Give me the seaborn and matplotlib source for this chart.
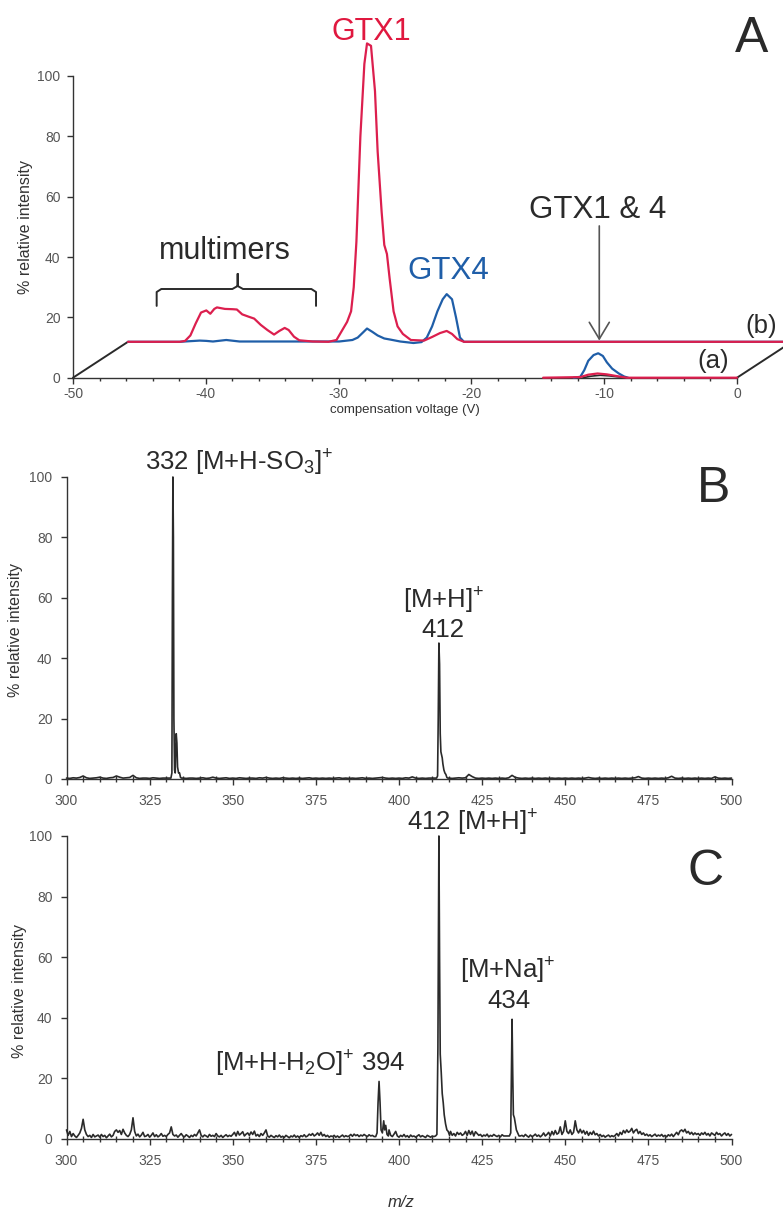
import numpy as np
import matplotlib
matplotlib.use("Agg")
import matplotlib.pyplot as plt
from matplotlib.ticker import MultipleLocator
import seaborn as sns

# ---------------------------------------------------------------- data
# Panel A: FAIMS compensation-voltage scans (two traces drawn as a
# pseudo-3D stack; trace (b) sits one "depth" step behind trace (a)).
CV_RANGE = (-50.0, 0.0)

# trace (b) - in its own frame (baseline 0)
cv_b_red = [-50.0, -46.1, -45.7, -45.3, -44.9, -44.5, -44.1, -43.8, -43.5, -43.3,
            -42.7, -42.1, -41.8, -41.4, -40.9, -40.5, -40.0, -39.5, -39.0, -38.6,
            -38.2, -37.9, -37.5, -37.1, -36.1, -34.9, -34.3, -33.9, -33.5, -33.2,
            -33.0, -32.8, -32.5, -32.2, -32.0, -31.7, -31.4, -31.2, -30.9, -30.7,
            -30.5, -30.3, -30.0, -29.7, -29.3, -28.7, -27.7, -27.1, -26.5, -26.0,
            -25.6, -25.2, -24.7, 0.0]
int_b_red = [0, 0, 0.3, 2.1, 6.1, 9.7, 10.4, 9.3, 10.9, 11.4,
             10.9, 10.8, 10.7, 9.1, 8.3, 7.7, 5.6, 3.9, 2.4, 3.6,
             4.6, 3.9, 1.7, 0.5, 0.1, 0, 0.6, 3.6, 6.6, 10.1,
             18.1, 33.1, 68.1, 92.1, 98.9, 98.1, 83.1, 63.1, 43.1, 32.1,
             29.1, 21.1, 10.1, 5.1, 2.6, 0.6, 0.4, 1.6, 2.9, 3.6,
             2.6, 0.9, 0, 0]

cv_b_blue = [-50.0, -46.1, -44.6, -44.1, -43.6, -42.6, -41.6, -39.1, -34.1, -33.1,
             -32.7, -32.3, -32.0, -31.6, -31.2, -30.7, -30.2, -29.5, -28.5, -27.9,
             -27.5, -27.1, -26.7, -26.3, -26.0, -25.6, -25.3, -25.0, -24.7, 0.0]
int_b_blue = [0, 0, 0.4, 0.3, 0.1, 0.6, 0.1, 0.1, 0.1, 0.6,
              1.4, 3.1, 4.4, 3.3, 2.1, 1.1, 0.7, 0.1, -0.4, -0.1,
              1.4, 5.1, 10.1, 14.1, 15.8, 14.1, 8.1, 1.4, 0, 0]

# trace (a) - front frame
cv_a_red = [-14.6, -11.8, -11.2, -10.5, -9.8, -9.0, -8.3, 0.0]
int_a_red = [0, 0.2, 1.0, 1.4, 1.1, 0.5, 0.0, 0.0]
cv_a_blue = [-12.3, -11.8, -11.5, -11.2, -10.8, -10.45, -10.1, -9.8, -9.4, -8.9, -8.5, -8.2]
int_a_blue = [0, 0.3, 2.5, 5.6, 7.5, 8.1, 7.2, 5.1, 3.0, 1.4, 0.4, 0]
cv_a_dark = [-11.6, -11.0, -10.3, -9.6, -8.8, -8.3]
int_a_dark = [0, 0.5, 0.8, 0.6, 0.2, 0]

# Panel B: mass spectrum, baseline at 1 m/z steps plus peak profiles
mz_b_base = np.arange(300, 501, 1.0)
int_b_base = [
    0.3, 0.2, 0.4, 0.3, 0.5, 1.0, 0.4, 0.2, 0.3, 0.4,
    0.6, 0.3, 0.2, 0.4, 0.5, 1.0, 0.6, 0.3, 0.4, 0.5,
    1.2, 0.4, 0.2, 0.3, 0.3, 0.2, 0.4, 0.3, 0.2, 0.3,
    0.3, 0.3, 0.3, 0.3, 0.3, 0.3, 0.2, 0.3, 0.3, 0.2,
    0.3, 0.4, 0.2, 0.3, 0.6, 0.3, 0.2, 0.3, 0.4, 0.2,
    0.3, 0.2, 0.4, 0.3, 0.2, 0.3, 0.3, 0.2, 0.4, 0.3,
    0.5, 0.3, 0.2, 0.3, 0.2, 0.4, 0.3, 0.2, 0.3, 0.2,
    0.3, 0.2, 0.3, 0.4, 0.2, 0.3, 0.2, 0.3, 0.2, 0.3,
    0.2, 0.3, 0.4, 0.2, 0.3, 0.2, 0.3, 0.2, 0.3, 0.4,
    0.2, 0.3, 0.2, 0.3, 0.4, 0.5, 0.3, 0.2, 0.3, 0.2,
    0.3, 0.2, 0.4, 0.3, 0.7, 0.3, 0.2, 0.3, 0.2, 0.3,
    0.3, 0.3, 0.3, 0.3, 0.3, 0.3, 0.2, 0.3, 0.4, 0.3,
    0.4, 1.5, 0.8, 0.3, 0.2, 0.3, 0.2, 0.3, 0.2, 0.3,
    0.2, 0.3, 0.2, 0.4, 1.2, 0.5, 0.3, 0.2, 0.3, 0.2,
    0.3, 0.2, 0.3, 0.2, 0.3, 0.2, 0.3, 0.2, 0.3, 0.2,
    0.3, 0.2, 0.3, 0.2, 0.3, 0.2, 0.3, 0.5, 0.3, 0.2,
    0.3, 0.2, 0.3, 0.2, 0.3, 0.2, 0.3, 0.2, 0.3, 0.2,
    0.3, 0.4, 0.8, 0.3, 0.2, 0.3, 0.2, 0.3, 0.2, 0.3,
    0.2, 0.4, 0.9, 0.3, 0.2, 0.3, 0.2, 0.3, 0.2, 0.3,
    0.2, 0.3, 0.2, 0.3, 0.2, 0.7, 0.3, 0.2, 0.3, 0.2,
    0.3]
peak_b_332 = ([331.4, 331.7, 331.85, 332.0, 332.15, 332.3, 332.5, 332.7, 332.85, 333.0,
               333.2, 333.4, 333.7, 334.0, 334.3, 334.6],
              [0.3, 2, 60, 100, 80, 20, 3, 2, 10, 15, 12, 4, 2, 2, 0.5, 0.3])
peak_b_412 = ([411.3, 411.6, 411.8, 412.0, 412.2, 412.4, 412.6, 412.8, 413.0, 413.2,
               413.5, 413.8, 414.1, 414.4, 414.7],
              [0.3, 1, 20, 45, 38, 15, 9, 8, 7, 5, 3, 2, 1.5, 0.5, 0.3])

# Panel C: mass spectrum, baseline at 0.5 m/z steps plus peak profiles
mz_c_base = np.arange(300, 500.5, 0.5)
int_c_base = [
    3.0, 1.2, 2.5, 0.8, 1.8, 1.0, 0.5, 1.2, 2.0, 3.5,
    6.5, 3.0, 1.5, 0.8, 1.2, 0.5, 1.5, 0.7, 1.0, 1.3,
    0.6, 1.5, 0.8, 1.2, 0.4, 1.0, 1.6, 0.7, 1.2, 2.5,
    3.0, 2.2, 2.8, 1.5, 3.2, 2.0, 1.2, 0.8, 1.5, 3.0,
    7.0, 2.5, 1.0, 1.6, 0.7, 1.3, 2.2, 0.8, 1.0, 1.5,
    0.6, 1.2, 2.0, 0.8, 1.4, 0.7, 1.1, 1.8, 0.9, 1.2,
    0.8, 1.5, 2.0, 4.0, 1.5, 1.0, 1.3, 0.6, 1.2, 1.8,
    1.0, 0.7, 1.4, 1.0, 0.5, 1.2, 0.8, 1.5, 1.0, 2.0,
    3.0, 1.2, 0.7, 1.3, 1.0, 0.6, 1.5, 0.9, 1.2, 0.8,
    1.8, 1.0, 0.7, 1.2, 0.5, 1.0, 1.4, 0.8, 1.2, 0.9,
    1.5, 2.2, 1.0, 2.5, 1.3, 1.8, 2.4, 1.0, 1.6, 2.0,
    1.2, 2.3, 1.5, 2.6, 1.0, 1.5, 0.8, 1.8, 1.2, 2.0,
    3.0, 1.0, 0.6, 1.2, 0.8, 0.5, 1.1, 0.7, 1.3, 0.6,
    0.9, 0.5, 1.2, 0.8, 0.4, 1.0, 0.7, 1.3, 0.6, 1.0,
    0.5, 1.1, 0.8, 1.4, 0.7, 1.0, 1.6, 1.2, 1.8, 1.0,
    1.4, 2.0, 1.2, 2.2, 1.0, 1.5, 0.8, 1.2, 0.6, 1.0,
    0.8, 1.2, 0.6, 1.0, 0.5, 0.9, 1.3, 0.7, 1.1, 0.8,
    1.0, 1.5, 0.9, 1.6, 1.1, 1.4, 0.8, 1.3, 1.0, 1.5,
    1.1, 0.8, 1.4, 1.0, 1.2, 0.8, 1.0, 1.0, 1.0, 1.0,
    1.0, 1.0, 1.0, 1.0, 3.0, 1.2, 0.8, 1.6, 2.5, 1.0,
    0.6, 1.2, 0.8, 1.5, 0.7, 1.1, 0.5, 1.3, 0.8, 1.0,
    0.6, 1.0, 1.4, 0.7, 1.1, 0.8, 0.5, 1.2, 0.9, 0.6,
    1.0, 0.8, 1.0, 1.0, 1.0, 1.0, 1.0, 1.0, 1.0, 1.0,
    1.5, 2.5, 1.2, 1.8, 1.0, 2.2, 1.5, 2.0, 1.2, 1.6,
    2.5, 1.2, 2.8, 1.5, 2.6, 1.0, 2.4, 1.8, 1.2, 1.5,
    0.8, 1.3, 1.0, 1.6, 0.7, 1.2, 0.9, 1.5, 1.1, 0.8,
    1.2, 0.7, 1.4, 1.0, 1.0, 1.0, 1.0, 1.0, 1.0, 1.0,
    1.0, 1.0, 1.0, 1.0, 1.2, 0.8, 1.5, 1.0, 0.6, 1.3,
    0.8, 1.1, 1.6, 0.9, 1.3, 0.7, 1.2, 2.0, 1.0, 1.5,
    2.2, 1.0, 2.5, 1.4, 2.8, 1.6, 2.0, 4.0, 1.5, 2.5,
    6.0, 2.5, 1.8, 3.0, 1.5, 2.2, 6.0, 3.0, 2.0, 3.2,
    2.0, 2.8, 1.6, 2.5, 1.2, 2.2, 1.5, 2.6, 1.4, 1.8,
    1.0, 1.5, 0.8, 1.2, 0.6, 1.0, 1.3, 0.7, 1.1, 0.8,
    1.2, 1.8, 1.0, 2.2, 1.5, 2.8, 2.0, 3.0, 2.2, 2.6,
    3.5, 2.0, 2.8, 3.2, 1.8, 2.5, 1.5, 2.0, 1.2, 1.6,
    1.0, 1.4, 0.8, 1.2, 1.6, 0.9, 1.3, 1.0, 1.5, 0.8,
    1.2, 0.7, 1.4, 1.0, 1.6, 0.8, 1.5, 2.2, 1.4, 2.6,
    3.0, 2.4, 3.2, 2.0, 2.5, 1.6, 2.2, 1.4, 2.0, 1.5,
    1.8, 1.2, 2.0, 1.5, 2.2, 1.3, 1.8, 1.0, 2.0, 1.6,
    1.2, 2.2, 1.5, 1.8, 1.0, 1.6, 2.0, 1.2, 1.8, 1.0,
    1.5]
peak_c_394 = ([393.0, 393.4, 393.7, 394.0, 394.3, 394.6, 395.0, 395.4, 395.7, 396.0, 396.4, 396.8],
              [0.8, 2, 12, 19, 12, 3, 2, 6, 3, 4.5, 1.5, 1])
peak_c_412 = ([411.0, 411.4, 411.7, 412.0, 412.2, 412.4, 412.7, 413.0, 413.3, 413.6,
               414.0, 414.4, 414.8, 415.2],
              [1, 1.5, 30, 100, 60, 28, 22, 15, 12, 8, 5, 3, 2.5, 1.2])
peak_c_434 = ([433.2, 433.6, 433.8, 434.0, 434.2, 434.4, 434.7, 435.0, 435.3, 435.7, 436.1],
              [1, 2, 20, 39.5, 22, 8, 7, 5, 3, 2, 1])

MZ_TICKS = [300, 325, 350, 375, 400, 425, 450, 475, 500]
INT_TICKS = [0, 20, 40, 60, 80, 100]
CV_TICKS = [-50, -40, -30, -20, -10, 0]

# ---------------------------------------------------------------- style
RED = "#dc1f4e"
BLUE = "#1f5ea8"
INK = "#2a2a2a"
TICKGREY = "#555555"

sns.set_style("ticks")
plt.rcParams["font.family"] = ["Liberation Sans", "DejaVu Sans"]
plt.rcParams["mathtext.fontset"] = "custom"
plt.rcParams["mathtext.rm"] = "Liberation Sans"
plt.rcParams["mathtext.it"] = "Liberation Sans:italic"
plt.rcParams["mathtext.default"] = "regular"
plt.rcParams["axes.unicode_minus"] = False
plt.rcParams["axes.edgecolor"] = "#333333"
plt.rcParams["axes.linewidth"] = 1.0

DEPTH_DX, DEPTH_DY = 4.14, 11.9


def assemble(base_mz, base_int, peaks):
    mz = np.asarray(base_mz, float)
    it = np.asarray(base_int, float)
    keep = np.ones(mz.size, bool)
    for pm, _ in peaks:
        keep &= ~((mz >= min(pm)) & (mz <= max(pm)))
    x = np.concatenate([mz[keep]] + [np.asarray(p[0], float) for p in peaks])
    y = np.concatenate([it[keep]] + [np.asarray(p[1], float) for p in peaks])
    order = np.argsort(x)
    return x[order], y[order]


def trace(ax, x, y, color, lw, z=3):
    sns.lineplot(x=np.asarray(x, float), y=np.asarray(y, float), ax=ax, color=color,
                 linewidth=lw, sort=False, estimator=None, clip_on=False, zorder=z)


fig = plt.figure(figsize=(7.83, 12.09), dpi=100)
axA = fig.add_axes([0.09323, 0.68759, 0.84802, 0.24955])
axB = fig.add_axes([0.08493, 0.35567, 0.84930, 0.24979])
axC = fig.add_axes([0.08493, 0.05790, 0.84930, 0.25062])

# ---------------------------------------------------------------- panel A
ax = axA
x0, x1 = CV_RANGE
# depth plane edges
trace(ax, [x0, x0 + DEPTH_DX], [0, DEPTH_DY], INK, 1.4, z=3)
trace(ax, [x1, x1 + DEPTH_DX], [0, DEPTH_DY], INK, 1.4, z=3)
# back trace (b)
trace(ax, np.add(cv_b_blue, DEPTH_DX), np.add(int_b_blue, DEPTH_DY), BLUE, 1.6)
trace(ax, np.add(cv_b_red, DEPTH_DX), np.add(int_b_red, DEPTH_DY), RED, 1.6, z=4)
# front trace (a)
trace(ax, cv_a_blue, int_a_blue, BLUE, 1.6)
trace(ax, cv_a_dark, int_a_dark, INK, 1.2)
trace(ax, cv_a_red, int_a_red, RED, 1.6, z=4)

ax.set_xlim(x0, x1)
ax.set_ylim(0, 100)
ax.set_xticks(CV_TICKS)
ax.xaxis.set_minor_locator(MultipleLocator(2))
ax.set_yticks(INT_TICKS)
sns.despine(ax=ax)
ax.spines["left"].set_bounds(0, 100)
ax.tick_params(axis="both", which="major", direction="out", length=4, width=1,
               labelsize=10, labelcolor=TICKGREY, color="#333333")
ax.tick_params(axis="x", which="major", pad=3)
ax.tick_params(axis="y", which="major", pad=5)
ax.tick_params(axis="x", which="minor", direction="out", length=2.5, width=1, color="#333333")
ax.set_xlabel("compensation voltage (V)", fontsize=9.5, color="#333333")
ax.xaxis.set_label_coords(0.5, -0.107)
ax.xaxis.label.set_va("center")
ax.set_ylabel("% relative intensity", fontsize=11.5, color="#333333")
ax.yaxis.set_label_coords(-0.072, 0.5)
ax.yaxis.label.set_va("center")

ax.text(-27.5, 111.9, "GTX1", color="#e0183f", fontsize=22, ha="center", va="baseline")
ax.text(-21.74, 32.6, "GTX4", color=BLUE, fontsize=22.5, ha="center", va="baseline")
ax.text(-38.55, 39.2, "multimers", color=INK, fontsize=22, ha="center", va="baseline")
ax.text(-10.48, 52.8, "GTX1 & 4", color=INK, fontsize=22.5, ha="center", va="baseline")
ax.text(1.85, 14.8, "(b)", color=INK, fontsize=18.5, ha="center", va="baseline")
ax.text(-1.81, 3.2, "(a)", color=INK, fontsize=18.5, ha="center", va="baseline")
ax.annotate("", xy=(-10.37, 12.3), xytext=(-10.37, 50.3),
            arrowprops=dict(arrowstyle="->,head_length=0.6,head_width=0.36",
                            color="#555555", lw=1.2, mutation_scale=20,
                            shrinkA=0, shrinkB=0))
# brace over the multimer region
bl, bc, br = -43.7, -37.6, -31.7
by, bt, bn = 29.4, 23.8, 34.4
brace_x = [bl, bl, bl + 0.35, bc - 0.4, bc, bc, bc, bc + 0.4, br - 0.35, br, br]
brace_y = [bt, by - 1.0, by, by, by + 1.0, bn, by + 1.0, by, by, by - 1.0, bt]
ax.plot(brace_x, brace_y, color=INK, lw=1.4, clip_on=False, zorder=3,
        solid_joinstyle="round")

# ---------------------------------------------------------------- panels B, C
def spectrum_axes(ax):
    ax.set_xlim(300, 500)
    ax.set_ylim(0, 100)
    ax.set_xticks(MZ_TICKS)
    ax.xaxis.set_minor_locator(MultipleLocator(5))
    ax.set_yticks(INT_TICKS)
    sns.despine(ax=ax)
    ax.tick_params(axis="both", which="major", direction="out", length=4, width=1,
                   labelsize=10, labelcolor=TICKGREY, color="#333333")
    ax.tick_params(axis="x", which="major", pad=7)
    ax.tick_params(axis="y", which="major", pad=6)
    ax.tick_params(axis="x", which="minor", direction="inout", length=4, width=1,
                   color="#333333")
    ax.set_ylabel("% relative intensity", fontsize=11.5, color="#333333")
    ax.yaxis.label.set_va("center")


mzB, intB = assemble(mz_b_base, int_b_base, [peak_b_332, peak_b_412])
trace(axB, mzB, intB, INK, 1.2)
spectrum_axes(axB)
axB.yaxis.set_label_coords(-0.076, 0.493)
axB.text(323.6, 102.3, r"332 [M+H-SO$_3]^{+}$", fontsize=18.5, color=INK,
         ha="left", va="baseline")
axB.text(413.5, 56.3, r"[M+H$]^{+}$", fontsize=18.5, color=INK, ha="center", va="baseline")
axB.text(413.1, 47.1, "412", fontsize=18.5, color=INK, ha="center", va="baseline")

mzC, intC = assemble(mz_c_base, int_c_base, [peak_c_394, peak_c_412, peak_c_434])
trace(axC, mzC, intC, INK, 1.2)
spectrum_axes(axC)
axC.yaxis.set_label_coords(-0.0714, 0.49)
axC.set_xlabel("m/z", fontsize=12, style="italic", color="#333333")
axC.xaxis.set_label_coords(0.503, -0.208)
axC.xaxis.label.set_va("center")
axC.text(402.4, 101.8, r"412 [M+H$]^{+}$", fontsize=18.5, color=INK, ha="left", va="baseline")
axC.text(432.6, 53.1, r"[M+Na$]^{+}$", fontsize=18.5, color=INK, ha="center", va="baseline")
axC.text(433.0, 43.2, "434", fontsize=18.5, color=INK, ha="center", va="baseline")
axC.text(344.7, 22.3, r"[M+H-H$_2$O$]^{+}$ 394", fontsize=18.5, color=INK,
         ha="left", va="baseline")

# panel letters
fig.text(0.9604, 0.95724, "A", fontsize=36, color=INK, ha="center", va="baseline")
fig.text(0.91124, 0.58478, "B", fontsize=36, color=INK, ha="center", va="baseline")
fig.text(0.90166, 0.26799, "C", fontsize=36, color=INK, ha="center", va="baseline")

fig.savefig("out.png", dpi=100)
